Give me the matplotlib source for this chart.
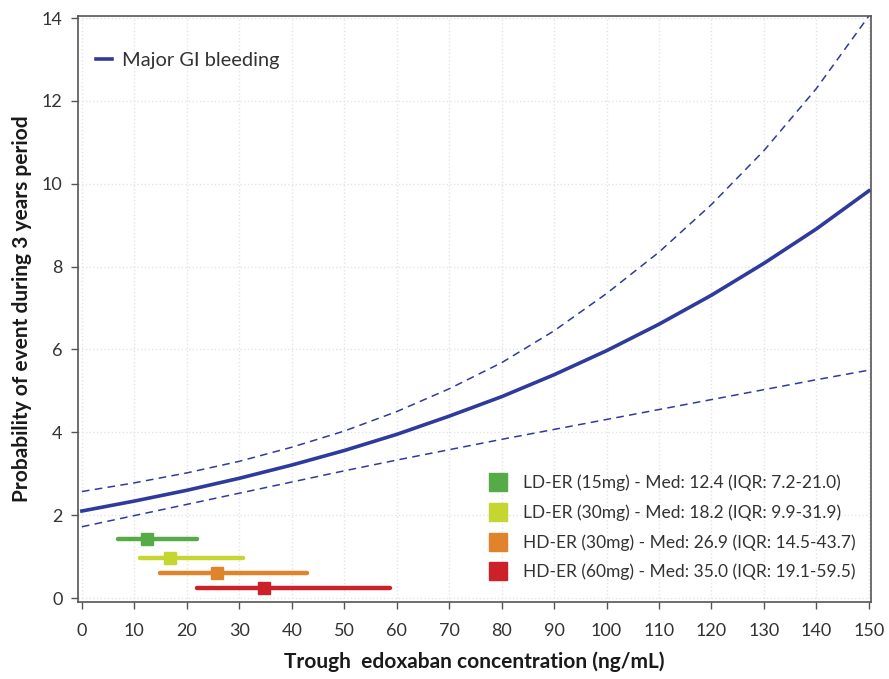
"""Major GI bleeding probability vs trough edoxaban concentration."""

import matplotlib

matplotlib.use("Agg")
import matplotlib.pyplot as plt
from matplotlib.lines import Line2D

plt.rcParams["font.family"] = ["Lato", "DejaVu Sans"]

concentration = [0, 10, 20, 30, 40, 50, 60, 70, 80, 90, 100, 110, 120, 130, 140, 150]
probability = [2.10, 2.34, 2.60, 2.89, 3.21, 3.56, 3.95, 4.39, 4.86, 5.39,
               5.97, 6.61, 7.31, 8.08, 8.91, 9.83]
upper_ci = [2.57, 2.78, 3.02, 3.30, 3.64, 4.03, 4.50, 5.05, 5.68, 6.45,
            7.35, 8.35, 9.50, 10.80, 12.30, 14.05]
lower_ci = [1.72, 1.99, 2.26, 2.53, 2.80, 3.07, 3.33, 3.58, 3.83, 4.07,
            4.31, 4.55, 4.79, 5.03, 5.27, 5.50]

group_labels = [
    "LD-ER (15mg) - Med: 12.4 (IQR: 7.2-21.0)",
    "LD-ER (30mg) - Med: 18.2 (IQR: 9.9-31.9)",
    "HD-ER (30mg) - Med: 26.9 (IQR: 14.5-43.7)",
    "HD-ER (60mg) - Med: 35.0 (IQR: 19.1-59.5)",
]
group_median = [12.4, 16.7, 25.8, 34.8]
group_low = [6.8, 11.1, 14.9, 22.0]
group_high = [21.9, 30.7, 43.0, 58.7]
group_y = [1.42, 0.97, 0.60, 0.25]
group_colors = ["#55ab45", "#c5d630", "#e0832b", "#cc2128"]

curve_color = "#2f3b9c"
spine_color = "#555555"
text_color = "#333333"

fig = plt.figure(figsize=(8.89, 6.79), dpi=100)
ax = fig.add_axes([0.0877, 0.1138, 0.8920, 0.8626])

ax.plot(concentration, upper_ci, color=curve_color, lw=1.1, ls=(0, (5, 3.5)))
ax.plot(concentration, lower_ci, color=curve_color, lw=1.1, ls=(0, (5, 3.5)))
ax.plot(concentration, probability, color=curve_color, lw=2.6,
        label="Major GI bleeding")

group_handles = []
for low, med, high, y, color, label in zip(
    group_low, group_median, group_high, group_y, group_colors, group_labels
):
    ax.plot([low, high], [y, y], color=color, lw=3.2, solid_capstyle="round")
    ax.plot([med], [y], marker="s", ms=9, color=color, ls="none")
    group_handles.append(
        Line2D([], [], marker="s", ms=13, color=color, ls="none", label=label)
    )

main_legend = ax.legend(loc="upper left", bbox_to_anchor=(0.0, 0.97),
                        frameon=False, fontsize=14.4, handlelength=0.8,
                        handletextpad=0.5, labelcolor=text_color)
ax.add_artist(main_legend)
ax.legend(handles=group_handles, loc="lower right",
          bbox_to_anchor=(1.0, 0.01), frameon=False, fontsize=12.5,
          handlelength=1.2, handletextpad=0.8, labelspacing=0.75,
          labelcolor=text_color)

ax.set_xlim(-0.75, 150.4)
ax.set_ylim(-0.09, 14.05)
ax.set_xticks(range(0, 151, 10))
ax.set_yticks(range(0, 15, 2))
ax.tick_params(axis="both", labelsize=13, colors=spine_color,
               labelcolor=text_color, length=5, width=1, direction="out")
ax.tick_params(axis="x", pad=10)
ax.tick_params(axis="y", pad=6)
ax.grid(True, color="#e4e4e4", ls=":", lw=1)

for spine in ax.spines.values():
    spine.set_color(spine_color)
    spine.set_linewidth(1.2)

ax.set_xlabel("Trough  edoxaban concentration (ng/mL)", fontsize=15,
              fontweight="bold", labelpad=9, color="#1a1a1a")
ax.set_ylabel("Probability of event during 3 years period", fontsize=15,
              fontweight="bold", labelpad=7, color="#1a1a1a")

fig.savefig("out.png", dpi=100)
